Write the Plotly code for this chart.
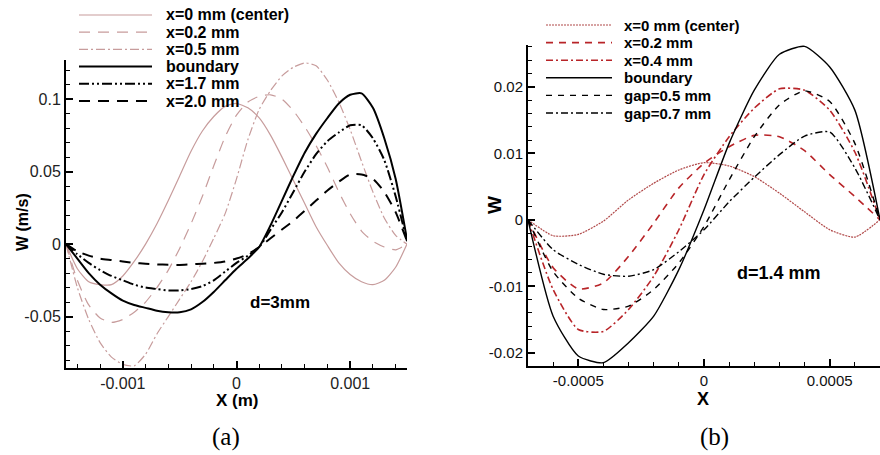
import plotly.graph_objects as go

W, H = 880, 455

# ---------------- panel (a): d = 3 mm ----------------
xa = [-0.0015, -0.0014, -0.0013, -0.0012, -0.0011, -0.0010, -0.0009, -0.0008,
      -0.0007, -0.0006, -0.0005, -0.0004, -0.0003, -0.0002, -0.0001, 0.0,
      0.0001, 0.0002, 0.0003, 0.0004, 0.0005, 0.0006, 0.0007, 0.0008,
      0.0009, 0.0010, 0.0011, 0.0012, 0.0013, 0.0014, 0.0015]

a_center = [0, -0.017, -0.026, -0.028, -0.028, -0.022, -0.012, 0.000, 0.014, 0.030,
            0.047, 0.064, 0.078, 0.088, 0.095, 0.097, 0.094, 0.087, 0.075, 0.060,
            0.044, 0.028, 0.012, -0.001, -0.013, -0.021, -0.026, -0.028, -0.025, -0.016, 0.0]
a_x02 = [0, -0.025, -0.042, -0.051, -0.054, -0.052, -0.047, -0.040, -0.030, -0.018,
         -0.003, 0.014, 0.033, 0.054, 0.074, 0.089, 0.098, 0.102, 0.103, 0.100,
         0.092, 0.081, 0.068, 0.053, 0.036, 0.021, 0.009, 0.002, -0.002, -0.004, 0.0]
a_x05 = [0, -0.030, -0.052, -0.068, -0.078, -0.083, -0.084, -0.076, -0.062, -0.050,
         -0.038, -0.026, -0.012, 0.004, 0.021, 0.045, 0.072, 0.093, 0.106, 0.116,
         0.122, 0.125, 0.123, 0.113, 0.098, 0.079, 0.057, 0.036, 0.018, 0.006, 0.0]
a_boundary = [0, -0.010, -0.020, -0.028, -0.034, -0.039, -0.042, -0.044, -0.046, -0.047,
              -0.047, -0.045, -0.040, -0.033, -0.025, -0.017, -0.010, -0.002, 0.013, 0.030,
              0.047, 0.063, 0.076, 0.087, 0.097, 0.103, 0.104, 0.094, 0.073, 0.045, 0.003]
a_x17 = [0, -0.007, -0.013, -0.018, -0.022, -0.025, -0.028, -0.030, -0.031, -0.032,
         -0.032, -0.031, -0.029, -0.025, -0.019, -0.013, -0.008, -0.002, 0.010, 0.022,
         0.036, 0.050, 0.062, 0.071, 0.077, 0.082, 0.082, 0.073, 0.058, 0.033, 0.002]
a_x20 = [0, -0.005, -0.008, -0.010, -0.011, -0.012, -0.013, -0.0135, -0.014, -0.0143,
         -0.0144, -0.014, -0.0135, -0.013, -0.012, -0.010, -0.007, -0.002, 0.004, 0.010,
         0.016, 0.023, 0.030, 0.037, 0.043, 0.048, 0.048, 0.045, 0.036, 0.022, 0.002]

a_names = ["x=0 mm (center)", "x=0.2 mm", "x=0.5 mm", "boundary", "x=1.7 mm", "x=2.0 mm"]
a_series = [a_center, a_x02, a_x05, a_boundary, a_x17, a_x20]

# ---------------- panel (b): d = 1.4 mm ----------------
xb = [-0.0007, -0.0006, -0.0005, -0.0004, -0.0003, -0.0002, -0.0001, 0.0,
      0.0001, 0.0002, 0.0003, 0.0004, 0.0005, 0.0006, 0.0007]

b_center = [0, -0.0024, -0.0022, -0.0002, 0.0030, 0.0055, 0.0075, 0.0086,
            0.0081, 0.0065, 0.0040, 0.0012, -0.0015, -0.0026, 0.0]
b_x02 = [0, -0.0072, -0.0104, -0.0095, -0.0055, -0.0005, 0.0048, 0.0085,
         0.0110, 0.0127, 0.0125, 0.0104, 0.0068, 0.0035, 0.0]
b_x04 = [0, -0.0105, -0.0165, -0.0168, -0.0135, -0.0085, -0.0015, 0.0068,
         0.0125, 0.0168, 0.0197, 0.0195, 0.0165, 0.0102, 0.0]
b_boundary = [0, -0.0145, -0.0205, -0.0215, -0.0185, -0.0145, -0.0075, 0.0015,
              0.0115, 0.0195, 0.0249, 0.0261, 0.0230, 0.0165, 0.0]
b_gap05 = [0, -0.0078, -0.0118, -0.0135, -0.0130, -0.0105, -0.0065, -0.0010,
           0.0060, 0.0125, 0.0173, 0.0194, 0.0178, 0.0115, 0.0]
b_gap07 = [0, -0.0045, -0.0067, -0.0082, -0.0085, -0.0075, -0.0048, -0.0015,
           0.0027, 0.0064, 0.0098, 0.0126, 0.0132, 0.0078, 0.0]

b_names = ["x=0 mm (center)", "x=0.2 mm", "x=0.4 mm", "boundary", "gap=0.5 mm", "gap=0.7 mm"]
b_series = [b_center, b_x02, b_x04, b_boundary, b_gap05, b_gap07]

# ---------------- styles ----------------
PINK = "#c79c9c"
RED = "#b82428"
DOTRED = "#b04848"
BLACK = "#000000"

a_styles = [
    dict(color=PINK, width=1.2, dash="solid"),
    dict(color=PINK, width=1.2, dash="11px,8px"),
    dict(color=PINK, width=1.2, dash="9px,3px,2px,3px"),
    dict(color=BLACK, width=2.0, dash="solid"),
    dict(color=BLACK, width=2.0, dash="10px,3px,2px,3px,2px,3px"),
    dict(color=BLACK, width=2.0, dash="11px,8px"),
]
b_styles = [
    dict(color=DOTRED, width=1.2, dash="2px,1px"),
    dict(color=RED, width=1.6, dash="7px,6px"),
    dict(color=RED, width=1.6, dash="7px,3px,2px,3px"),
    dict(color=BLACK, width=1.4, dash="solid"),
    dict(color=BLACK, width=1.4, dash="6px,6px"),
    dict(color=BLACK, width=1.4, dash="7px,3px,2px,3px"),
]

FONT = "Arial, 'Liberation Sans', sans-serif"
SERIF = "'Times New Roman', 'Liberation Serif', serif"


def px(x):
    return x / W


def py(y):
    return 1 - y / H


fig = go.Figure()

for ys, name, st in zip(a_series, a_names, a_styles):
    fig.add_trace(go.Scatter(x=xa, y=ys, name=name, mode="lines", line=dict(shape="spline", smoothing=0.6, **st),
                             xaxis="x", yaxis="y", showlegend=False))
for ys, name, st in zip(b_series, b_names, b_styles):
    fig.add_trace(go.Scatter(x=xb, y=ys, name=name, mode="lines", line=dict(shape="spline", smoothing=0.6, **st),
                             xaxis="x2", yaxis="y2", showlegend=False))

axis_common = dict(showgrid=False, zeroline=False, showline=True, linecolor="black",
                   ticks="inside", tickcolor="black", mirror=False)

fig.update_layout(
    width=W, height=H,
    margin=dict(l=0, r=0, t=0, b=0),
    paper_bgcolor="white", plot_bgcolor="white",
    xaxis=dict(domain=[px(66), px(407)], range=[-0.0015, 0.0015], anchor="y",
               tickmode="array", tickvals=[-0.001, 0, 0.001], ticktext=["-0.001", "0", "0.001"],
               ticklen=7, tickwidth=1.5, linewidth=2,
               minor=dict(tickmode="linear", tick0=0, dtick=0.0002, ticks="inside", ticklen=4,
                          tickwidth=1, tickcolor="black"),
               tickfont=dict(family=FONT, size=16, color="#222"), **axis_common),
    yaxis=dict(domain=[py(368), py(60)], range=[-0.0855, 0.127], anchor="x",
               tickmode="array", tickvals=[-0.05, 0, 0.05, 0.1], ticktext=["-0.05", "0", "0.05", "0.1"],
               ticklen=7, tickwidth=1.5, linewidth=2,
               minor=dict(tickmode="linear", tick0=0, dtick=0.01, ticks="inside", ticklen=4,
                          tickwidth=1, tickcolor="black"),
               tickfont=dict(family=FONT, size=16, color="#222"), **axis_common),
    xaxis2=dict(domain=[px(528), px(880)], range=[-0.0007, 0.0007], anchor="y2",
                tickmode="array", tickvals=[-0.0005, 0, 0.0005], ticktext=["-0.0005", "0", "0.0005"],
                ticklen=7, tickwidth=1.5, linewidth=2,
                minor=dict(tickmode="linear", tick0=0, dtick=0.0001, ticks="inside", ticklen=4,
                           tickwidth=1, tickcolor="black"),
                tickfont=dict(family=FONT, size=15, color="#111"), **axis_common),
    yaxis2=dict(domain=[py(366), py(45)], range=[-0.0220, 0.0263], anchor="x2",
                tickmode="array", tickvals=[-0.02, -0.01, 0, 0.01, 0.02],
                ticktext=["-0.02", "-0.01", "0", "0.01", "0.02"],
                ticklen=7, tickwidth=1.5, linewidth=2,
                minor=dict(tickmode="linear", tick0=0, dtick=0.002, ticks="inside", ticklen=4,
                           tickwidth=1, tickcolor="black"),
                tickfont=dict(family=FONT, size=15, color="#111"), **axis_common),
)

shapes = []
annotations = []

# legend of panel (a)
for i, (name, st) in enumerate(zip(a_names, a_styles)):
    yy = 15 + i * 17.2
    shapes.append(dict(type="line", xref="paper", yref="paper", x0=px(79), x1=px(152), y0=py(yy), y1=py(yy),
                       line=dict(color=st["color"], width=st["width"], dash=st["dash"])))
    annotations.append(dict(text=f"<b>{name}</b>", xref="paper", yref="paper", x=px(164), y=py(yy),
                            xanchor="left", yanchor="middle", showarrow=False,
                            font=dict(family=FONT, size=16, color="black")))

# legend of panel (b)
for i, (name, st) in enumerate(zip(b_names, b_styles)):
    yy = 25 + i * 17.6
    shapes.append(dict(type="line", xref="paper", yref="paper", x0=px(546), x1=px(612), y0=py(yy), y1=py(yy),
                       line=dict(color=st["color"], width=st["width"], dash=st["dash"])))
    annotations.append(dict(text=f"<b>{name}</b>", xref="paper", yref="paper", x=px(622), y=py(yy),
                            xanchor="left", yanchor="middle", showarrow=False,
                            font=dict(family=FONT, size=15, color="black")))

# axis titles
annotations += [
    dict(text="<b>X (m)</b>", xref="paper", yref="paper", x=px(237), y=py(400), xanchor="center",
         yanchor="middle", showarrow=False, font=dict(family=FONT, size=17, color="black")),
    dict(text="<b>W (m/s)</b>", xref="paper", yref="paper", x=px(22), y=py(222), xanchor="center",
         yanchor="middle", textangle=-90, showarrow=False, font=dict(family=FONT, size=16, color="black")),
    dict(text="<b>X</b>", xref="paper", yref="paper", x=px(703), y=py(399), xanchor="center",
         yanchor="middle", showarrow=False, font=dict(family=FONT, size=18, color="black")),
    dict(text="<b>W</b>", xref="paper", yref="paper", x=px(495), y=py(205), xanchor="center",
         yanchor="middle", textangle=-90, showarrow=False, font=dict(family=FONT, size=19, color="black")),
    # case labels inside the plots
    dict(text="<b>d=3mm</b>", xref="x", yref="y", x=0.00038, y=-0.040, xanchor="center", yanchor="middle",
         showarrow=False, font=dict(family=FONT, size=17, color="black")),
    dict(text="<b>d=1.4 mm</b>", xref="x2", yref="y2", x=0.0003, y=-0.008, xanchor="center", yanchor="middle",
         showarrow=False, font=dict(family=FONT, size=18, color="black")),
    # panel captions
    dict(text="(a)", xref="paper", yref="paper", x=px(226), y=py(437), xanchor="center", yanchor="middle",
         showarrow=False, font=dict(family=SERIF, size=25, color="black")),
    dict(text="(b)", xref="paper", yref="paper", x=px(714), y=py(437), xanchor="center", yanchor="middle",
         showarrow=False, font=dict(family=SERIF, size=25, color="black")),
]

fig.update_layout(shapes=shapes, annotations=annotations)
fig.write_html("out.html")
